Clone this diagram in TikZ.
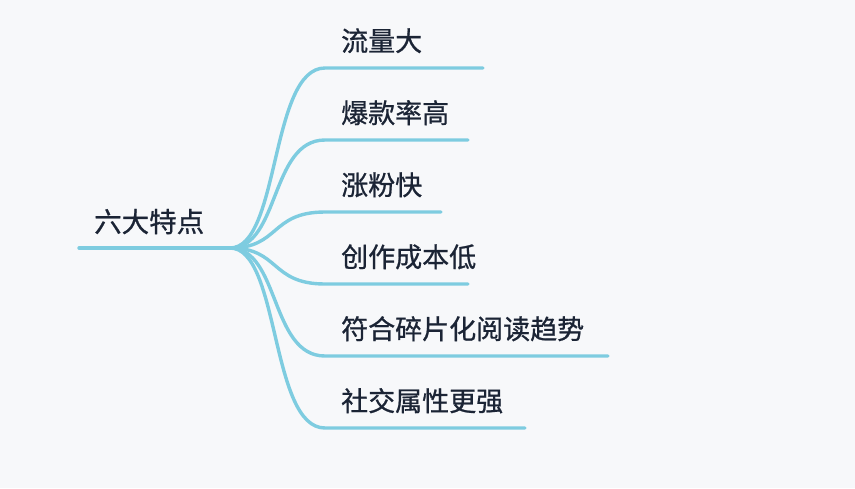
\documentclass[tikz,border=0pt]{standalone}
\usepackage{fontspec}
\newfontfamily\cjk[FakeBold=0.8]{Noto Sans CJK SC}
\definecolor{bg}{HTML}{F7F8FA}
\definecolor{ln}{HTML}{7ECCE0}
\definecolor{tx}{HTML}{1B2435}
\tikzset{x=1pt,y=-1pt,
 lbl/.style={anchor=base west,inner sep=0pt,text=tx,font=\cjk\fontsize{27}{27}\selectfont\addfontfeature{FakeBold=0.8}},
 br/.style={draw=ln,line width=3.4pt,line cap=round}}
\begin{document}
\begin{tikzpicture}
\fill[bg] (0,0) rectangle (855,488);
\useasboundingbox (0,0) rectangle (855,488);
\node[lbl,font=\cjk\fontsize{27.5}{27.5}\selectfont\addfontfeature{FakeBold=0.8}] (root) at (94,232) {六大特点};
\coordinate (r0) at (79,248);
\coordinate (r1) at (230,248);
\draw[br] (r0) -- (r1);
\foreach \n/\y/\e/\t in {a/68/483/流量大,b/140/468/爆款率高,c/212/441/涨粉快,d/284/468/创作成本低,e/356/608/符合碎片化阅读趋势,f/428/525/社交属性更强}{
  \node[lbl] (\n) at (341,\y-17) {\t};
  \coordinate (\n s) at (325,\y);
  \coordinate (\n e) at (\e,\y);
  \draw[br] (r1) .. controls (280,248) and (270,\y) .. (\n s) -- (\n e);
}
\end{tikzpicture}
\end{document}
